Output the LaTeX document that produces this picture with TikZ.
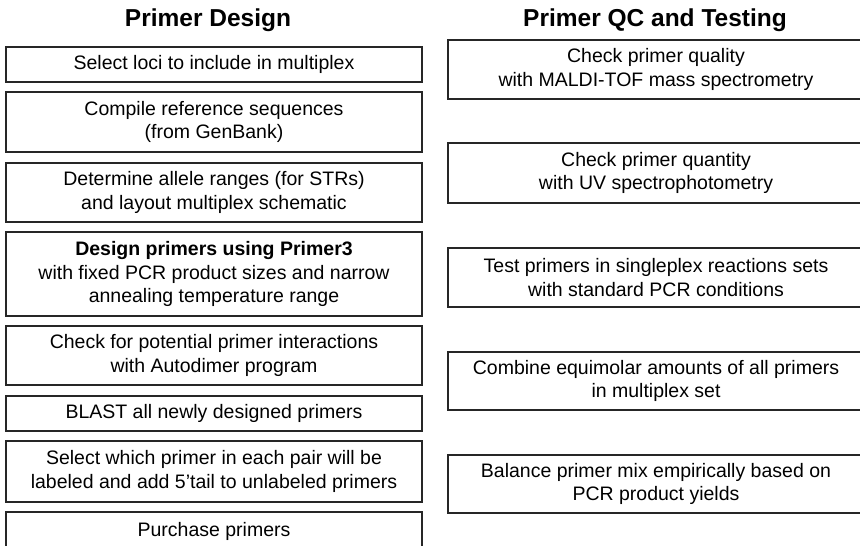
\documentclass[tikz,border=0pt]{standalone}
\usepackage{fontspec}
\setmainfont{Liberation Sans}
\usetikzlibrary{positioning}
\tikzset{
  stepbox/.style={draw=black!85, line width=1.4pt, align=center, inner sep=0pt,
    font=\fontsize{19.5}{23.5}\selectfont},
  designbox/.style={stepbox, minimum width=416pt},
  testbox/.style={stepbox, minimum width=416pt},
  headline/.style={font=\bfseries\fontsize{24.5}{28}\selectfont}
}
\begin{document}
\begin{tikzpicture}[x=1pt,y=-1pt]
  \useasboundingbox (0,0) rectangle (860,546);

  %%%%% PRIMER DESIGN %%%%%
  \node[headline] (designhead) at (208,20) {Primer Design};

  \node[designbox, minimum height=35pt] (loci) at (214,64.5) {Select loci to include in multiplex};
  \node[designbox, minimum height=60pt] (refseq) at (214,122) {Compile reference sequences\\(from GenBank)};
  \node[designbox, minimum height=59pt] (allele) at (214,192.5) {Determine allele ranges (for STRs)\\and layout multiplex schematic};
  \node[designbox, minimum height=84pt] (primer3) at (214,274) {\textbf{Design primers using Primer3}\\with fixed PCR product sizes and narrow\\annealing temperature range};
  \node[designbox, minimum height=59pt] (autodimer) at (214,355.5) {Check for potential primer interactions\\with Autodimer program};
  \node[designbox, minimum height=35pt] (blast) at (214,413.5) {BLAST all newly designed primers};
  \node[designbox, minimum height=61pt] (labeled) at (214,471.5) {Select which primer in each pair will be\\labeled and add 5'tail to unlabeled primers};
  \node[designbox, minimum height=38pt] (purchase) at (214,531) {Purchase primers};

  %%%%% PRIMER QC AND TESTING %%%%%
  \node[headline] (testhead) at (655,20) {Primer QC and Testing};

  \node[testbox, minimum height=59pt] (quality) at (656,69.5) {Check primer quality\\with MALDI-TOF mass spectrometry};
  \node[testbox, minimum height=60pt] (quantity) at (656,173) {Check primer quantity\\with UV spectrophotometry};
  \node[testbox, minimum height=59pt] (single) at (656,277.5) {Test primers in singleplex reactions sets\\with standard PCR conditions};
  \node[testbox, minimum height=58pt] (equimolar) at (656,381) {Combine equimolar amounts of all primers\\in multiplex set};
  \node[testbox, minimum height=58pt] (balance) at (656,484) {Balance primer mix empirically based on\\PCR product yields};
\end{tikzpicture}
\end{document}
